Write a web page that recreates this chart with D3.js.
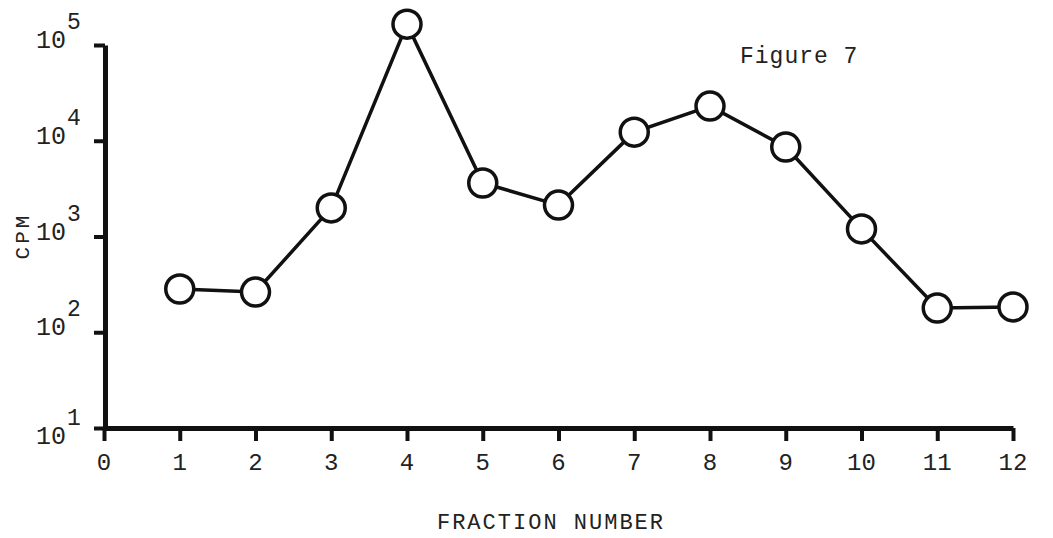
<!DOCTYPE html>
<html>
<head>
<meta charset="utf-8">
<script src="https://cdn.jsdelivr.net/npm/d3@7"></script>
<style>
  body { margin: 0; background: #fff; }
  svg text { font-family: "Liberation Mono", "Courier New", monospace; fill: #222; }
</style>
</head>
<body>
<svg class="chart"></svg>
<script>
var width = 1053,
    height = 538;

// fraction number vs counts per minute
var fractions = [1, 2, 3, 4, 5, 6, 7, 8, 9, 10, 11, 12];
var cpm = [283, 263, 1990, 165000, 3620, 2130, 12300, 23000, 8600, 1200, 179, 184];
var xTicks = [0, 1, 2, 3, 4, 5, 6, 7, 8, 9, 10, 11, 12];
var yTicks = [10, 100, 1000, 10000, 100000];

var x = d3.scaleLinear()
    .domain([0, 12])
    .range([104, 1013]);

var y = d3.scaleLog()
    .domain([10, 100000])
    .range([428, 45]);

var chart = d3.select(".chart")
    .attr("width", width)
    .attr("height", height);

// y axis
var yAxis = chart.append("g")
    .attr("transform", "translate(105,0)")
    .call(d3.axisLeft(y).tickValues(yTicks).tickFormat("").tickSize(11).tickSizeOuter(0));
yAxis.select(".domain").attr("stroke", "#111").attr("stroke-width", 5);
yAxis.selectAll(".tick line").attr("stroke", "#111").attr("stroke-width", 4);

// x axis
var xAxis = chart.append("g")
    .attr("transform", "translate(0,428)")
    .call(d3.axisBottom(x).tickValues(xTicks).tickFormat("").tickSize(13).tickSizeOuter(0));
xAxis.select(".domain").attr("stroke", "#111").attr("stroke-width", 5);
xAxis.selectAll(".tick line").attr("stroke", "#111").attr("stroke-width", 4);

// tick labels, powers of ten
var yl = chart.selectAll(".ylab")
    .data(yTicks)
  .enter().append("g")
    .attr("class", "ylab")
    .attr("transform", function(d) { return "translate(0," + (y(d) + (d == 10 ? 16 : 3)) + ")"; });

yl.append("text")
    .attr("x", 66)
    .attr("text-anchor", "end")
    .style("font-size", "25px")
    .text("10");

yl.append("text")
    .attr("x", 67)
    .attr("y", -19)
    .style("font-size", "23px")
    .text(function(d) { return Math.round(Math.log10(d)); });

chart.selectAll(".xlab")
    .data(xTicks)
  .enter().append("text")
    .attr("class", "xlab")
    .attr("x", function(d) { return x(d); })
    .attr("y", 470)
    .attr("text-anchor", "middle")
    .style("font-size", "24px")
    .text(function(d) { return d; });

// axis titles
chart.append("text")
    .attr("transform", "translate(29,236) rotate(-90)")
    .attr("text-anchor", "middle")
    .style("font-size", "21px")
    .style("letter-spacing", "3px")
    .text("CPM");

chart.append("text")
    .attr("x", 551)
    .attr("y", 529)
    .attr("text-anchor", "middle")
    .style("font-size", "22px")
    .style("letter-spacing", "2px")
    .text("FRACTION NUMBER");

chart.append("text")
    .attr("x", 740)
    .attr("y", 63)
    .style("font-size", "23px")
    .style("letter-spacing", "1px")
    .text("Figure 7");

// data line and open circles
var line = d3.line()
    .x(function(d, i) { return x(fractions[i]); })
    .y(function(d) { return y(d); });

chart.append("path")
    .datum(cpm)
    .attr("d", line)
    .attr("fill", "none")
    .attr("stroke", "#111")
    .attr("stroke-width", 3.5);

chart.selectAll(".pt")
    .data(cpm)
  .enter().append("circle")
    .attr("class", "pt")
    .attr("cx", function(d, i) { return x(fractions[i]); })
    .attr("cy", function(d) { return y(d); })
    .attr("r", 14)
    .attr("fill", "#fff")
    .attr("stroke", "#111")
    .attr("stroke-width", 3.5);
</script>
</body>
</html>
